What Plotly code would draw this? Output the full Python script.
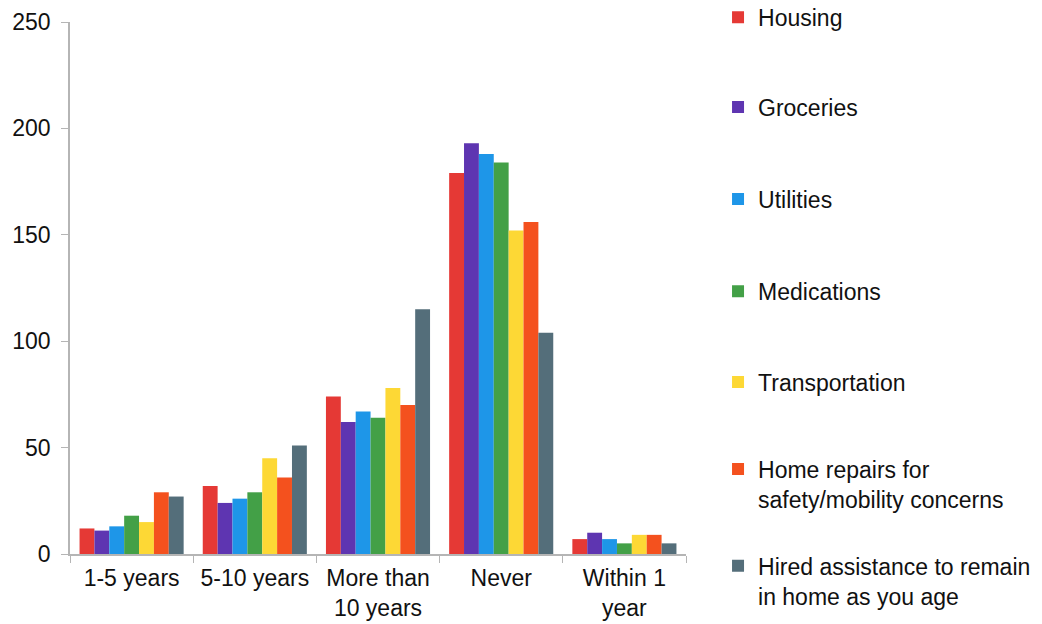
import plotly.graph_objects as go

categories = ["1-5 years", "5-10 years", "More than<br>10 years", "Never", "Within 1<br>year"]
series_names = [
    "Housing",
    "Groceries",
    "Utilities",
    "Medications",
    "Transportation",
    "Home repairs for<br>safety/mobility concerns",
    "Hired assistance to remain<br>in home as you age",
]
housing = [12, 32, 74, 179, 7]
groceries = [11, 24, 62, 193, 10]
utilities = [13, 26, 67, 188, 7]
medications = [18, 29, 64, 184, 5]
transportation = [15, 45, 78, 152, 9]
home_repairs = [29, 36, 70, 156, 9]
hired_assistance = [27, 51, 115, 104, 5]

values = [housing, groceries, utilities, medications, transportation, home_repairs, hired_assistance]
colors = ["#e53935", "#5e35b1", "#1e96e8", "#43a047", "#fdd835", "#f4511e", "#546e7a"]
legend_y = [1.009, 0.840, 0.667, 0.494, 0.323, 0.200, 0.018]

FONT = "Liberation Sans, Arial, Helvetica, sans-serif"

fig = go.Figure()
for i, (name, vals, col) in enumerate(zip(series_names, values, colors)):
    lg = "legend" if i == 0 else f"legend{i+1}"
    fig.add_trace(go.Bar(
        x=categories, y=vals, name=name,
        marker=dict(color=col, line=dict(width=0)),
        legend=lg, showlegend=True,
    ))

layout_legends = {}
for i, y in enumerate(legend_y):
    key = "legend" if i == 0 else f"legend{i+1}"
    layout_legends[key] = dict(
        x=1.052, y=y, xanchor="left",
        yanchor="top" if "<br>" in series_names[i] else "middle",
        font=dict(family=FONT, size=23, color="#111111"),
        bgcolor="rgba(0,0,0,0)", borderwidth=0, valign="top",
        itemclick=False, itemdoubleclick=False,
    )

fig.update_layout(
    width=1042, height=624,
    showlegend=True,
    margin=dict(l=70, r=356, t=22, b=70, autoexpand=False),
    paper_bgcolor="white", plot_bgcolor="white",
    barmode="group", bargap=0.155, bargroupgap=0,
    font=dict(family=FONT, size=23, color="#111111"),
    xaxis=dict(
        showline=True, linecolor="#b5b5b5", linewidth=1.5,
        ticks="outside", tickson="boundaries", ticklen=7, tickcolor="#b5b5b5",
        showgrid=False, tickfont=dict(size=23, color="#111111"),
        ticklabelstandoff=3,
    ),
    yaxis=dict(
        range=[0, 250], tickvals=[0, 50, 100, 150, 200, 250],
        showline=True, linecolor="#b5b5b5", linewidth=1.5,
        ticks="outside", ticklen=7, tickcolor="#b5b5b5",
        showgrid=False, zeroline=False,
        tickfont=dict(size=23, color="#111111"),
        ticklabelstandoff=6,
    ),
    **layout_legends,
)

fig.write_html("out.html")
